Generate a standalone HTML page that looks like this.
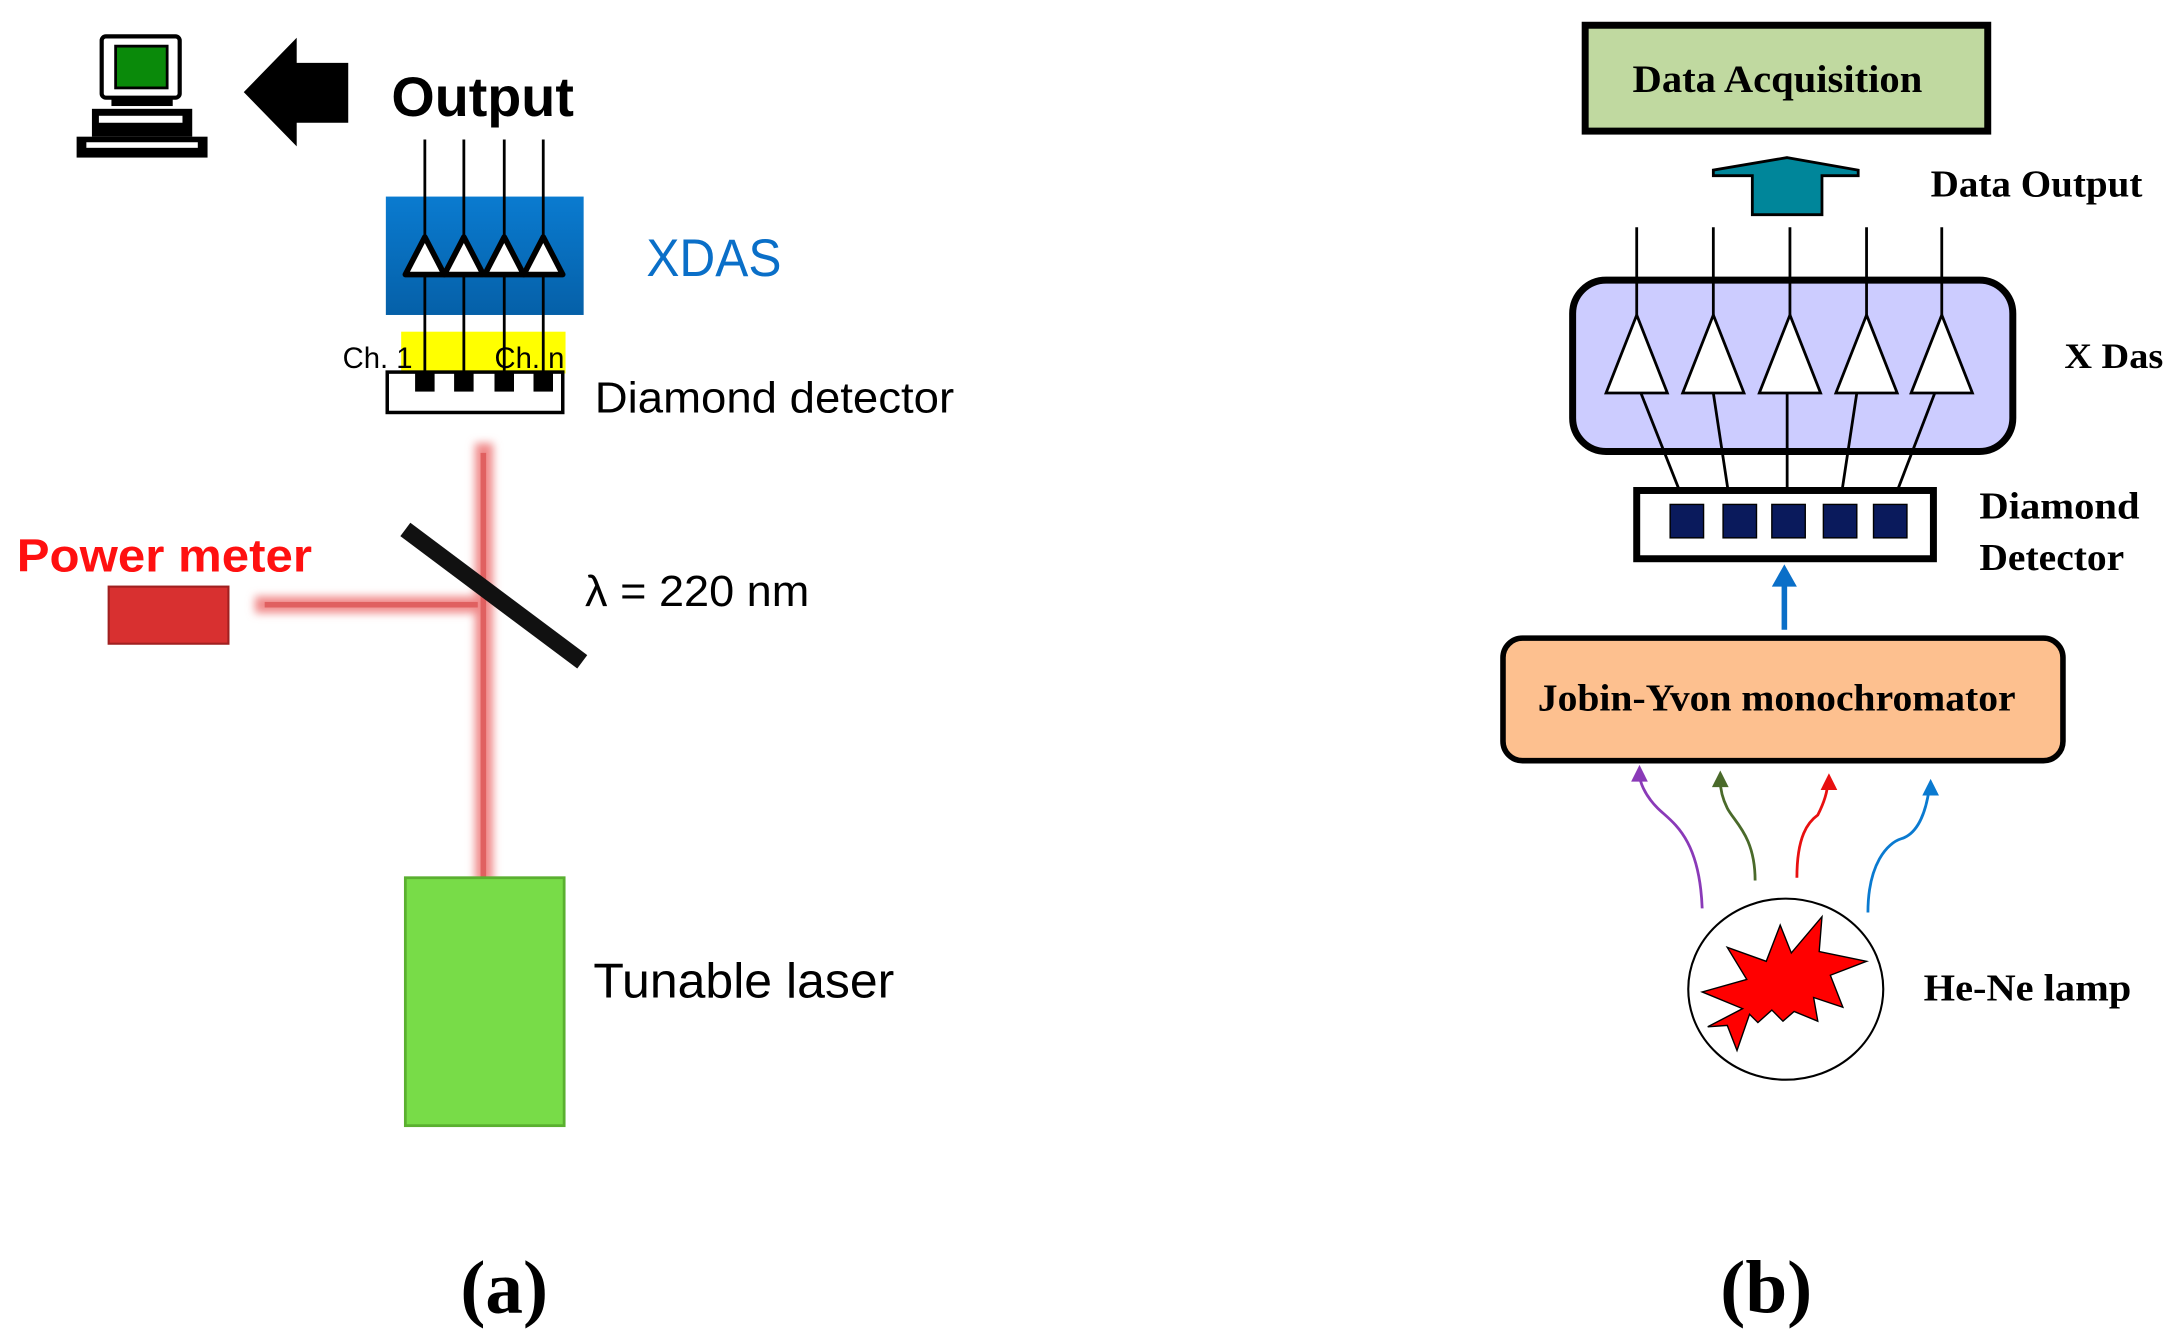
<!DOCTYPE html>
<html><head><meta charset="utf-8"><style>
html,body{margin:0;padding:0;background:#fff;}
svg{display:block;}
.s{font-family:"Liberation Sans",sans-serif;}
.r{font-family:"Liberation Serif",serif;font-weight:bold;}
</style></head><body>
<svg width="2173" height="1332" viewBox="0 0 1560 956" xmlns="http://www.w3.org/2000/svg">
<defs>
<filter id="bl" x="-50%" y="-10%" width="200%" height="120%"><feGaussianBlur stdDeviation="3"/></filter>
<linearGradient id="bg" x1="0" y1="0" x2="0" y2="1"><stop offset="0" stop-color="#0a7bd0"/><stop offset="1" stop-color="#0560a8"/></linearGradient>
</defs>
<rect width="1560" height="956" fill="#fff"/>
<!-- (a) computer -->
<rect x="73" y="26" width="56" height="44" rx="3" fill="#fff" stroke="#000" stroke-width="3"/>
<rect x="83" y="33" width="37" height="30" fill="#0a8a0a" stroke="#000" stroke-width="2"/>
<rect x="80" y="70" width="44" height="6" fill="#000"/>
<rect x="66" y="78" width="72" height="20" fill="#000"/>
<rect x="71" y="83" width="60" height="5" fill="#fff"/>
<rect x="55" y="98" width="94" height="15" fill="#000"/>
<rect x="62" y="102" width="80" height="4" fill="#fff"/>
<polygon points="175,66 213,27 213,45 250,45 250,88 213,88 213,105" fill="#000"/>
<text x="281" y="83" class="s" font-size="40" font-weight="bold" textLength="131" lengthAdjust="spacingAndGlyphs">Output</text>
<rect x="277" y="141" width="142" height="85" fill="url(#bg)"/>
<rect x="288" y="238" width="118" height="30" fill="#ffff00"/>
<g stroke="#000" stroke-width="2">
<line x1="305" y1="100" x2="305" y2="270"/><line x1="333" y1="100" x2="333" y2="270"/>
<line x1="362" y1="100" x2="362" y2="270"/><line x1="390" y1="100" x2="390" y2="270"/>
</g>
<g fill="#fff" stroke="#000" stroke-width="4" stroke-linejoin="round">
<polygon points="305,170 291,197 319,197"/><polygon points="333,170 319,197 347,197"/>
<polygon points="362,170 348,197 376,197"/><polygon points="390,170 376,197 404,197"/>
</g>
<text x="464" y="198" class="s" font-size="38" fill="#0a6fc8" textLength="97" lengthAdjust="spacingAndGlyphs">XDAS</text>
<text x="246" y="264" class="s" font-size="21">Ch. 1</text>
<text x="355" y="264" class="s" font-size="21">Ch. n</text>
<rect x="278" y="267" width="126" height="29" fill="#fff" stroke="#000" stroke-width="2.5"/>
<rect x="298" y="268" width="14" height="13" fill="#000"/><rect x="326" y="268" width="14" height="13" fill="#000"/>
<rect x="355" y="268" width="14" height="13" fill="#000"/><rect x="383" y="268" width="14" height="13" fill="#000"/>
<text x="427" y="296" class="s" font-size="31" textLength="258" lengthAdjust="spacingAndGlyphs">Diamond detector</text>
<g filter="url(#bl)"><rect x="341" y="318" width="13" height="316" fill="#f08a8a"/><rect x="183" y="428" width="163" height="12" fill="#f08a8a"/></g>
<rect x="345" y="325" width="4" height="305" fill="#e06060"/>
<rect x="190" y="432" width="153" height="4" fill="#e06060"/>
<line x1="291" y1="380" x2="418" y2="475" stroke="#111" stroke-width="12"/>
<text x="12" y="410" class="s" font-size="33" font-weight="bold" fill="#ff1010" textLength="212" lengthAdjust="spacingAndGlyphs">Power meter</text>
<rect x="78" y="421" width="86" height="41" fill="#d83030" stroke="#a02020" stroke-width="1.5"/>
<text x="420" y="435" class="s" font-size="31" textLength="161" lengthAdjust="spacingAndGlyphs">λ = 220 nm</text>
<rect x="291" y="630" width="114" height="178" fill="#78dc48" stroke="#5ab030" stroke-width="2"/>
<text x="426" y="716" class="s" font-size="35" textLength="216" lengthAdjust="spacingAndGlyphs">Tunable laser</text>
<text x="362" y="942" class="r" font-size="54" text-anchor="middle">(a)</text>
<!-- (b) -->
<rect x="1138" y="18" width="289" height="76" fill="#c0d9a0" stroke="#000" stroke-width="5"/>
<text x="1172" y="66" class="r" font-size="28" textLength="208" lengthAdjust="spacingAndGlyphs">Data Acquisition</text>
<polygon points="1283,113 1334,122 1334,126 1308,126 1308,154 1258,154 1258,126 1230,126 1230,122" fill="#00869a" stroke="#000" stroke-width="2"/>
<text x="1386" y="141" class="r" font-size="27" textLength="152" lengthAdjust="spacingAndGlyphs">Data Output</text>
<rect x="1129" y="201" width="316" height="123" rx="24" fill="#ccccff" stroke="#000" stroke-width="5"/>
<g stroke="#000" stroke-width="2">
<line x1="1175" y1="163" x2="1175" y2="226"/><line x1="1230" y1="163" x2="1230" y2="226"/>
<line x1="1285" y1="163" x2="1285" y2="226"/><line x1="1340" y1="163" x2="1340" y2="226"/>
<line x1="1394" y1="163" x2="1394" y2="226"/>
<line x1="1178" y1="282" x2="1212" y2="368"/><line x1="1230" y1="282" x2="1243" y2="368"/>
<line x1="1283" y1="282" x2="1283" y2="368"/><line x1="1333" y1="282" x2="1320" y2="368"/>
<line x1="1389" y1="282" x2="1356" y2="368"/>
</g>
<g fill="#fff" stroke="#000" stroke-width="2">
<polygon points="1175,226 1153,282 1197,282"/><polygon points="1230,226 1208,282 1252,282"/>
<polygon points="1285,226 1263,282 1307,282"/><polygon points="1340,226 1318,282 1362,282"/>
<polygon points="1394,226 1372,282 1416,282"/>
</g>
<text x="1482" y="264" class="r" font-size="26" textLength="71" lengthAdjust="spacingAndGlyphs">X Das</text>
<rect x="1175" y="352" width="213" height="49" fill="#fff" stroke="#000" stroke-width="5"/>
<g fill="#0a1a5c" stroke="#000" stroke-width="1">
<rect x="1199" y="362" width="24" height="24"/><rect x="1237" y="362" width="24" height="24"/>
<rect x="1272" y="362" width="24" height="24"/><rect x="1309" y="362" width="24" height="24"/>
<rect x="1345" y="362" width="24" height="24"/>
</g>
<text x="1421" y="372" class="r" font-size="27" textLength="115" lengthAdjust="spacingAndGlyphs">Diamond</text>
<text x="1421" y="409" class="r" font-size="27" textLength="104" lengthAdjust="spacingAndGlyphs">Detector</text>
<line x1="1281" y1="452" x2="1281" y2="420" stroke="#0a6fc8" stroke-width="4"/>
<polygon points="1281,405 1272,421 1290,421" fill="#0a6fc8"/>
<rect x="1079" y="458" width="402" height="88" rx="14" fill="#fdc08f" stroke="#000" stroke-width="4"/>
<text x="1104" y="510" class="r" font-size="27" textLength="343" lengthAdjust="spacingAndGlyphs">Jobin-Yvon monochromator</text>
<g fill="none" stroke-width="2">
<path d="M1222,652 C1220,600 1200,590 1190,580 C1180,570 1177,560 1177,556" stroke="#8a3ab8"/>
<path d="M1260,632 C1260,600 1245,590 1240,580 C1236,572 1235,565 1235,560" stroke="#4a6a2a"/>
<path d="M1290,630 C1290,600 1298,590 1305,585 C1310,575 1312,568 1312,562" stroke="#e81010"/>
<path d="M1341,655 C1341,620 1355,605 1365,602 C1378,598 1383,580 1385,566" stroke="#0a7ad0"/>
</g>
<polygon points="1177,549 1171,561 1183,561" fill="#8a3ab8"/>
<polygon points="1235,553 1229,565 1241,565" fill="#4a6a2a"/>
<polygon points="1313,555 1307,567 1319,567" fill="#e81010"/>
<polygon points="1386,559 1380,571 1392,571" fill="#0a7ad0"/>
<ellipse cx="1282" cy="710" rx="70" ry="65" fill="#fff" stroke="#000" stroke-width="1.5"/>
<polygon points="1226,737 1251,724 1222,712 1254,703 1240,680 1268,690 1278,664 1286,684 1308,658 1306,683 1340,690 1314,700 1323,723 1302,716 1305,733 1288,726 1280,733 1272,725 1262,734 1256,728 1247,754 1240,736" fill="#ff0000" stroke="#000" stroke-width="1"/>
<text x="1381" y="718" class="r" font-size="27" textLength="149" lengthAdjust="spacingAndGlyphs">He-Ne lamp</text>
<text x="1268" y="942" class="r" font-size="54" text-anchor="middle">(b)</text>
</svg>
</body></html>
